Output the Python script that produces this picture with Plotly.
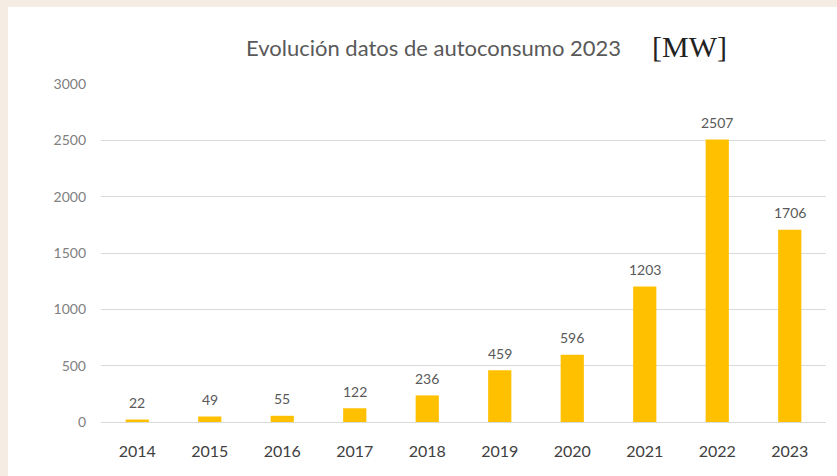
import plotly.graph_objects as go

years = ["2014", "2015", "2016", "2017", "2018", "2019", "2020", "2021", "2022", "2023"]
values = [22, 49, 55, 122, 236, 459, 596, 1203, 2507, 1706]
y_ticks = [0, 500, 1000, 1500, 2000, 2500, 3000]

W, H = 837, 476
L, R, T, B = 101, 11, 84, 54
pw, ph = W - L - R, H - T - B

def px(x):
    return (x - L) / pw

def py(y):
    return 1 - (y - T) / ph

FONT = "Lato, Open Sans, sans-serif"

fig = go.Figure()
fig.add_trace(go.Bar(
    x=years, y=values,
    marker=dict(color="#FFC000", line=dict(width=0)),
    width=0.32,
    hoverinfo="x+y",
))

annotations = [
    dict(x=i, y=v, xref="x", yref="y", text=str(v), showarrow=False,
         xanchor="center", yanchor="middle", yshift=17,
         font=dict(family=FONT, size=14, color="#595959"))
    for i, v in enumerate(values)
]
annotations += [
    dict(text="Evolución datos de autoconsumo 2023", xref="paper", yref="paper",
         x=px(433), y=py(47), xanchor="center", yanchor="middle", showarrow=False,
         font=dict(family=FONT, size=22, color="#595959")),
    dict(text="[MW]", xref="paper", yref="paper",
         x=px(689), y=py(46), xanchor="center", yanchor="middle", showarrow=False,
         font=dict(family="Liberation Serif, DejaVu Serif, serif", size=30, color="#222222")),
]

fig.update_layout(
    width=W, height=H,
    margin=dict(l=L, r=R, t=T, b=B, pad=0),
    paper_bgcolor="#F5EDE3",
    plot_bgcolor="white",
    showlegend=False,
    xaxis=dict(
        type="category", range=[-0.5, len(years) - 0.5],
        showgrid=False, zeroline=False, showline=False,
        tickfont=dict(family=FONT, size=16, color="#404040"),
        ticks="", ticklabelstandoff=18,
    ),
    yaxis=dict(
        range=[0, 3000], tickvals=y_ticks,
        showgrid=True, gridcolor="#D9D9D9", gridwidth=1,
        zeroline=True, zerolinecolor="#D9D9D9", zerolinewidth=1,
        showline=False, ticks="",
        tickfont=dict(family=FONT, size=14, color="#808080"),
        ticklabelstandoff=14,
    ),
    shapes=[
        dict(type="rect", xref="paper", yref="paper", layer="below",
             x0=px(8), x1=px(W + 5), y0=py(7), y1=py(H + 5),
             fillcolor="white", line=dict(width=0)),
    ],
    annotations=annotations,
)

fig.write_html("out.html", config={"displayModeBar": False},
               post_script="document.body.style.margin='0';document.body.style.overflow='hidden';")
